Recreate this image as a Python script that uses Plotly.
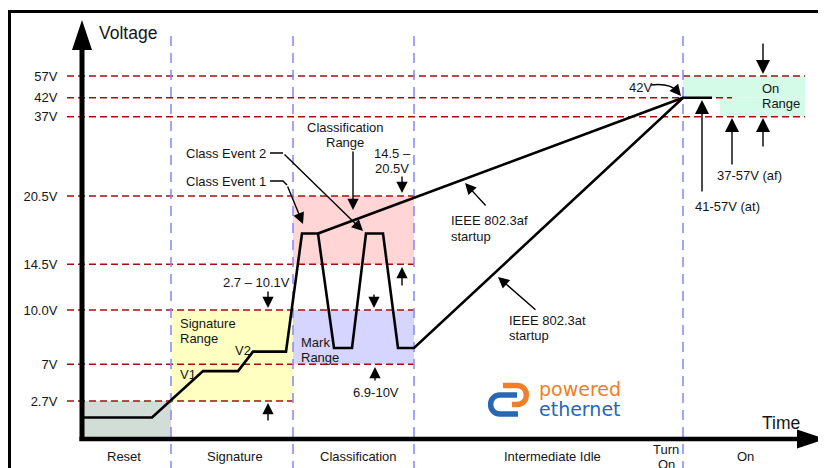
import numpy as np
import plotly.graph_objects as go

# ---------------- data ----------------
tick_volts = [57, 42, 37, 20.5, 14.5, 10.0, 7, 2.7]
tick_labels = ["57V", "42V", "37V", "20.5V", "14.5V", "10.0V", "7V", "2.7V"]

phase_names = ["Reset", "Signature", "Classification", "Intermediate Idle", "Turn<br>On", "On"]
phase_bounds = [0, 89, 211, 332, 601, 723]          # time units (arbitrary)
phase_label_t = [42, 153, 276, 470, 584, 663]

# PD port voltage waveform (802.3at startup path)
wave_t = [0, 70, 121, 156, 171, 204, 220, 236, 252, 270, 284, 301, 316, 332, 601, 630]
wave_v = [1.5, 1.5, 6.2, 6.2, 7.7, 7.7, 17.2, 17.2, 7.9, 7.9, 17.2, 17.2, 7.9, 7.9, 42, 42]
# 802.3af startup path (leaves after the first class event)
af_t = [236, 601]
af_v = [17.2, 42]

# threshold dashed lines: voltage, end time
thr_volts = [57, 42, 37, 20.5, 14.5, 10.0, 7, 2.7]
thr_end_t = [723, 650, 723, 332, 332, 332, 332, 211]

# shaded ranges: (t0, t1, v0, v1, colour)
range_t0 = [0, 89, 211, 211, 601, 638]
range_t1 = [89, 211, 332, 332, 723, 723]
range_v0 = [0, 2.7, 14.5, 7, 42, 37]
range_v1 = [2.7, 10, 20.5, 10, 57, 42]
range_col = ["#d3ddd7", "#ffffc2", "#ffd5d5", "#d5d5ff", "#d4fbe8", "#d4fbe8"]

# schematic (non-linear) voltage scale of the diagram
V_ANCHOR = [0, 2.7, 7, 10, 14.5, 20.5, 37, 42, 57]
ROW_ANCHOR = [438, 401, 364.3, 310, 264.3, 196, 116.7, 97.7, 76]


def vy(v):
    return float(np.interp(v, V_ANCHOR, ROW_ANCHOR))


FONT = "Liberation Sans, Arial, sans-serif"
TXT = "#151515"
PAGE_OFFSET = 8  # the page body margin shifts the figure by this many px

fig = go.Figure()

shapes = []
# shaded ranges
for t0, t1, v0, v1, c in zip(range_t0, range_t1, range_v0, range_v1, range_col):
    shapes.append(dict(type="rect", xref="x", yref="y", x0=t0, x1=t1, y0=vy(v0), y1=vy(v1),
                       fillcolor=c, line=dict(width=0), layer="below"))
# red threshold lines
for v, te in zip(thr_volts, thr_end_t):
    shapes.append(dict(type="line", xref="x", yref="y", x0=-15, x1=te, y0=vy(v), y1=vy(v),
                       line=dict(color="#a11010", width=1.6, dash="7px,4px"), layer="below"))
# blue phase separators
for tb in phase_bounds[1:-1]:
    shapes.append(dict(type="line", xref="x", yref="y", x0=tb, x1=tb, y0=36, y1=470,
                       line=dict(color="#8c8cff", width=1.6, dash="10px,7px"), layer="below"))
# outer frame
shapes.append(dict(type="rect", xref="x", yref="y", x0=-72.5, x1=900, y0=11.5, y1=600,
                   line=dict(color="black", width=3), fillcolor="rgba(0,0,0,0)", layer="above"))
# axes with arrows
shapes.append(dict(type="line", xref="x", yref="y", x0=0, x1=0, y0=48, y1=441,
                   line=dict(color="black", width=5), layer="above"))
shapes.append(dict(type="path", xref="x", yref="y", path="M -10 50 L 10 50 L 0 20 Z",
                   fillcolor="black", line=dict(width=0), layer="above"))
shapes.append(dict(type="line", xref="x", yref="y", x0=-2.5, x1=717, y0=439, y1=439,
                   line=dict(color="black", width=4.5), layer="above"))
shapes.append(dict(type="path", xref="x", yref="y", path="M 715 429.5 L 715 448.5 L 744 439 Z",
                   fillcolor="black", line=dict(width=0), layer="above"))
# callout leader lines
shapes.append(dict(type="path", xref="x", yref="y", path="M 188 153 L 201 153",
                   line=dict(color="black", width=1.5), layer="above"))
shapes.append(dict(type="path", xref="x", yref="y", path="M 188 181 L 201 181 L 205 185",
                   line=dict(color="black", width=1.5), layer="above"))
shapes.append(dict(type="path", xref="x", yref="y", path="M 569 85 Q 588 83 595 91",
                   line=dict(color="black", width=1.5), layer="above"))
# logo mark
shapes.append(dict(type="path", xref="x", yref="y",
                   path="M 421 385.5 L 435 385.5 C 447.5 385.5 447.5 404.5 435 404.5 L 430 404.5",
                   line=dict(color="#f07f28", width=5.5), fillcolor="rgba(0,0,0,0)", layer="above"))
shapes.append(dict(type="path", xref="x", yref="y",
                   path="M 435 395 L 418 395 C 405.5 395 405.5 414 418 414 L 436 414",
                   line=dict(color="#2867b2", width=5.5), fillcolor="rgba(0,0,0,0)", layer="above"))

# waveform traces
fig.add_trace(go.Scatter(x=wave_t, y=[vy(v) for v in wave_v], mode="lines",
                         line=dict(color="black", width=2.6), hoverinfo="skip"))
fig.add_trace(go.Scatter(x=af_t, y=[vy(v) for v in af_v], mode="lines",
                         line=dict(color="black", width=2.6), hoverinfo="skip"))

ann = []


def txt(x, y, lines, anchor="left", size=13, color=TXT, lh=15.5, fam=FONT):
    for i, s in enumerate(lines):
        ann.append(dict(x=x, y=y + i * lh, xref="x", yref="y", text=s, showarrow=False,
                        xanchor=anchor, yanchor="middle",
                        font=dict(family=fam, size=size, color=color)))


def arrow(tip, tail, size=1.6, width=1.4):
    ann.append(dict(x=tip[0], y=tip[1], ax=tail[0], ay=tail[1], xref="x", yref="y",
                    axref="x", ayref="y", text="", showarrow=True, arrowhead=2,
                    arrowsize=size, arrowwidth=width, arrowcolor="black", standoff=0,
                    startstandoff=0))


# phase labels
for name, t in zip(phase_names, phase_label_t):
    if "<br>" in name:
        txt(t, 449, name.split("<br>"), anchor="center", lh=15)
    else:
        txt(t, 456, [name], anchor="center")

txt(15, 33, ["Voltage"], size=17.5)
txt(678, 423, ["Time"], size=17.5)
txt(186, 153, ["Class Event 2"], anchor="right")
txt(186, 181, ["Class Event 1"], anchor="right")
txt(263, 127, ["Classification", "Range"], anchor="center", lh=15)
txt(310, 153, ["14.5 –", "20.5V"], anchor="center", lh=15)
txt(174, 282, ["2.7 – 10.1V"], anchor="center")
txt(96, 323, ["Signature", "Range"], lh=15)
txt(96, 374, ["V1"])
txt(151, 350, ["V2"])
txt(217, 342, ["Mark", "Range"], lh=15)
txt(294, 392, ["6.9-10V"], anchor="center")
txt(367, 220, ["IEEE 802.3af", "startup"], lh=16)
txt(425, 320, ["IEEE 802.3at", "startup"], lh=15)
txt(545, 87, ["42V"])
txt(678, 88, ["On", "Range"], lh=15)
txt(667, 175, ["37-57V (af)"], anchor="center")
txt(645, 206, ["41-57V (at)"], anchor="center")
txt(455, 389, ["powered"], size=19, color="#f07f28", fam="DejaVu Sans, Noto Sans, sans-serif")
txt(455, 409, ["ethernet"], size=19, color="#2867b2", fam="DejaVu Sans, Noto Sans, sans-serif")

# arrows
arrow((271, 210), (271, 150))
arrow((320, 193), (320, 175))
arrow((320, 267), (320, 287))
arrow((292, 308), (292, 293))
arrow((293, 367), (293, 382))
arrow((186, 308), (186, 290))
arrow((186, 403), (186, 422))
arrow((383, 183), (405, 207))
arrow((416, 277), (455, 311))
arrow((281, 231), (201, 153))
arrow((221, 224), (205, 185))
arrow((599, 96), (594, 90), size=1.6)
arrow((681, 74), (681, 42), size=2)
arrow((681, 118), (681, 148), size=2)
arrow((650, 118), (650, 166), size=2)
arrow((620, 100), (620, 193), size=2)

fig.update_layout(
    width=826, height=468, margin=dict(l=0, r=0, t=0, b=0),
    paper_bgcolor="white", plot_bgcolor="white", showlegend=False,
    shapes=shapes, annotations=ann,
    xaxis=dict(range=[-82 + PAGE_OFFSET, 744 + PAGE_OFFSET], visible=False, fixedrange=True),
    yaxis=dict(range=[468 + PAGE_OFFSET, PAGE_OFFSET], anchor="free",
               position=(82 - PAGE_OFFSET) / 826, side="left",
               tickvals=[vy(v) for v in tick_volts], ticktext=tick_labels,
               ticks="outside", ticklen=22, tickcolor="rgba(0,0,0,0)",
               tickfont=dict(family=FONT, size=13, color=TXT),
               showgrid=False, zeroline=False, showline=False, fixedrange=True),
)

fig.write_html("out.html")
